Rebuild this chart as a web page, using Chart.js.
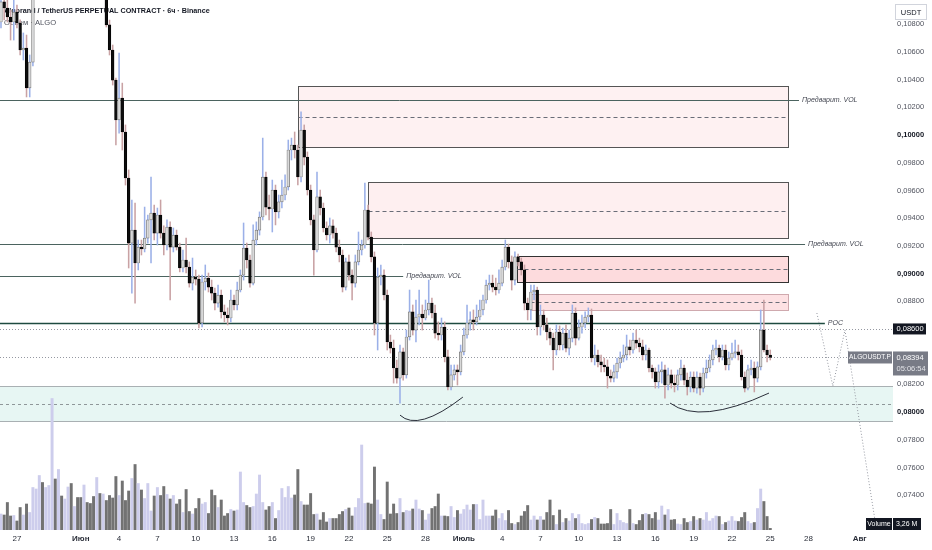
<!DOCTYPE html>
<html><head><meta charset="utf-8">
<script src="https://cdn.jsdelivr.net/npm/chart.js@4.4.1/dist/chart.umd.min.js"></script>
<style>html,body{margin:0;padding:0;background:#fff}#wrap{width:932px;height:550px;position:relative}</style>
</head><body><div id="wrap"><canvas id="c"></canvas></div>
<script>
// ---- DATA (6h candles, ALGOUSDT.P) ----
const opens = [0.10816,0.10961,0.10917,0.10852,0.10816,0.10888,0.10809,0.10614,0.10628,0.10340,0.10527,
0.11083,0.11180,0.11260,0.11190,0.11240,0.11310,0.11500,0.11380,0.11450,0.11360,0.11400,0.11470,0.11390,0.11430,0.11340,0.11270,0.11320,0.11250,0.11190,0.11140,0.11200,0.11150,
0.11210,0.10795,
0.10614,0.10397,0.10109,0.10267,0.10022,0.09690,0.09220,0.09314,0.09076,0.09191,
0.09177,0.09256,0.09387,0.09437,0.09292,0.09423,0.09292,0.09206,0.09336,0.09191,
0.09278,0.09191,0.09040,0.09098,0.09047,0.08931,0.08975,0.08960,0.08643,0.08939,
0.08967,0.08902,0.08859,0.08787,0.08845,0.08723,0.08701,0.08679,0.08809,0.08773,
0.08881,0.08989,0.09184,0.09098,0.08931,0.09242,0.09314,0.09408,0.09697,0.09480,
0.09466,0.09603,0.09445,0.09517,0.09567,0.09625,0.09892,0.09928,0.09892,0.09697,
0.10036,0.09841,0.09603,0.09387,0.09170,0.09553,0.09473,0.09329,0.09278,0.09344,
0.09292,0.09191,0.09134,0.08902,0.09084,0.08989,0.08931,0.09084,0.09170,0.09206,
0.09459,0.09263,0.09120,0.08643,0.08975,0.08989,0.08845,0.08506,0.08462,0.08318,
0.08245,0.08434,0.08268,0.08542,0.08723,0.08592,0.08686,
0.08708,
0.08679,0.08737,0.08787,0.08715,0.08570,0.08556,0.08614,0.08398,0.08181,0.08268,
0.08304,0.08290,0.08434,0.08556,0.08643,0.08665,0.08651,0.08686,0.08737,0.08809,0.08917,
0.08931,
0.08902,0.08881,0.08931,0.09047,0.09191,0.09084,0.08953,0.09120,0.09084,0.09026,
0.08787,0.08737,0.08867,0.08881,0.08614,0.08701,0.08629,0.08578,0.08534,0.08448,
0.08578,0.08484,0.08570,0.08462,0.08534,0.08715,0.08534,0.08614,0.08643,0.08686,
0.08701,0.08390,0.08412,0.08362,0.08340,0.08326,0.08260,0.08245,0.08290,0.08354,
0.08390,0.08412,0.08470,0.08448,0.08520,0.08498,0.08470,0.08412,0.08448,0.08318,
0.08290,0.08217,0.08290,0.08304,0.08195,0.08268,0.08209,0.08195,0.08268,0.08318,
0.08231,0.08181,0.08253,0.08173,0.08253,0.08173,0.08282,0.08318,0.08376,0.08448,
0.08462,0.08398,0.08448,0.08340,0.08390,0.08426,0.08434,0.08412,0.08253,0.08173,
0.08304,0.08318,0.08245,0.08326,0.08592,0.08448,0.08412];
const highs = [0.11033,0.11018,0.10975,0.10903,0.10975,0.10939,0.10831,0.10737,0.10722,0.10578,0.11192,
0.11230,0.11300,0.11290,0.11280,0.11350,0.11600,0.11540,0.11490,0.11470,0.11440,0.11520,0.11490,0.11460,0.11450,0.11360,0.11350,0.11340,0.11270,0.11220,0.11240,0.11230,0.11250,
0.11240,0.10830,
0.10650,0.10412,0.10592,0.10375,0.10073,0.09748,0.09531,0.09509,0.09242,0.09242,
0.09480,0.09423,0.09697,0.09495,0.09473,0.09531,0.09344,0.09387,0.09373,0.09329,
0.09314,0.09220,0.09170,0.09256,0.09084,0.09112,0.09026,0.08989,0.08989,0.09062,
0.09004,0.08953,0.08895,0.08917,0.08881,0.08773,0.08752,0.08881,0.08845,0.08939,
0.09026,0.09365,0.09220,0.09134,0.09351,0.09373,0.09445,0.09978,0.09733,0.09567,
0.09675,0.09639,0.09567,0.09675,0.09712,0.09964,0.09978,0.10022,0.09928,0.10167,
0.10073,0.09878,0.09639,0.09423,0.09733,0.09603,0.09509,0.09373,0.09401,0.09387,
0.09329,0.09242,0.09170,0.09112,0.09134,0.09026,0.09134,0.09300,0.09242,0.09653,
0.09495,0.09300,0.09156,0.09040,0.09062,0.09026,0.08881,0.08556,0.08520,0.08376,
0.08484,0.08462,0.08592,0.08881,0.08773,0.08809,0.08881,
0.08773,
0.08809,0.08953,0.08823,0.08773,0.08651,0.08679,0.08651,0.08448,0.08340,0.08340,
0.08340,0.08484,0.08607,0.08773,0.08723,0.08737,0.08773,0.08809,0.08845,0.08953,0.08989,
0.08989,
0.08967,0.09026,0.09098,0.09242,0.09213,0.09127,0.09156,0.09141,0.09112,0.09062,
0.08823,0.08917,0.08917,0.08902,0.08773,0.08737,0.08679,0.08607,0.08570,0.08629,
0.08622,0.08607,0.08629,0.08592,0.08773,0.08752,0.08665,0.08701,0.08723,0.08752,
0.08744,0.08484,0.08448,0.08412,0.08390,0.08376,0.08304,0.08340,0.08390,0.08434,
0.08484,0.08556,0.08520,0.08570,0.08592,0.08534,0.08520,0.08484,0.08462,0.08340,
0.08318,0.08340,0.08362,0.08340,0.08318,0.08304,0.08268,0.08304,0.08376,0.08340,
0.08282,0.08290,0.08290,0.08290,0.08282,0.08318,0.08376,0.08412,0.08484,0.08520,
0.08484,0.08484,0.08484,0.08434,0.08498,0.08520,0.08484,0.08448,0.08290,0.08340,
0.08376,0.08362,0.08362,0.08737,0.08809,0.08484,0.08448];
const lows = [0.10773,0.10831,0.10816,0.10686,0.10686,0.10773,0.10578,0.10542,0.10275,0.10275,0.10499,
0.11040,0.11150,0.11140,0.11160,0.11210,0.11280,0.11320,0.11350,0.11330,0.11320,0.11380,0.11360,0.11350,0.11310,0.11230,0.11240,0.11210,0.11150,0.11100,0.11110,0.11110,0.11120,
0.10780,0.10578,
0.10361,0.09928,0.10014,0.09892,0.09639,0.09040,0.08859,0.08787,0.09026,0.09134,
0.09156,0.09220,0.09076,0.09242,0.09206,0.09256,0.09134,0.09170,0.08809,0.09156,
0.09170,0.09012,0.09012,0.09004,0.08902,0.08881,0.08917,0.08607,0.08614,0.08881,
0.08867,0.08809,0.08737,0.08758,0.08679,0.08651,0.08629,0.08651,0.08737,0.08737,
0.08867,0.08953,0.09040,0.08902,0.08917,0.09206,0.09278,0.09387,0.09423,0.09387,
0.09300,0.09351,0.09401,0.09473,0.09531,0.09603,0.09820,0.09834,0.09639,0.09661,
0.09784,0.09567,0.09351,0.08989,0.09156,0.09423,0.09300,0.09242,0.09220,0.09256,
0.09156,0.09084,0.08867,0.08881,0.08953,0.08809,0.08902,0.09062,0.09134,0.09184,
0.09242,0.09084,0.08556,0.08448,0.08917,0.08809,0.08448,0.08426,0.08209,0.08209,
0.08065,0.08231,0.08245,0.08520,0.08556,0.08506,0.08629,
0.08592,
0.08665,0.08701,0.08679,0.08534,0.08520,0.08520,0.08362,0.08159,0.08159,0.08231,
0.08195,0.08268,0.08412,0.08534,0.08592,0.08592,0.08629,0.08665,0.08701,0.08787,0.08881,
0.08867,
0.08845,0.08859,0.08910,0.09026,0.09040,0.08881,0.08917,0.09055,0.08989,0.08737,
0.08665,0.08665,0.08809,0.08556,0.08556,0.08592,0.08520,0.08484,0.08304,0.08412,
0.08448,0.08448,0.08434,0.08412,0.08506,0.08484,0.08520,0.08570,0.08607,0.08651,
0.08362,0.08340,0.08326,0.08290,0.08290,0.08173,0.08217,0.08217,0.08245,0.08318,
0.08362,0.08376,0.08412,0.08426,0.08462,0.08434,0.08376,0.08376,0.08290,0.08245,
0.08173,0.08173,0.08209,0.08101,0.08159,0.08173,0.08145,0.08159,0.08231,0.08195,
0.08123,0.08145,0.08145,0.08137,0.08123,0.08145,0.08245,0.08290,0.08340,0.08412,
0.08362,0.08376,0.08304,0.08304,0.08376,0.08390,0.08376,0.08231,0.08145,0.08159,
0.08268,0.08145,0.08217,0.08304,0.08434,0.08362,0.08376];
const closes = [0.10961,0.10917,0.10852,0.10816,0.10888,0.10809,0.10614,0.10628,0.10340,0.10527,0.11083,
0.11180,0.11260,0.11190,0.11240,0.11310,0.11500,0.11380,0.11450,0.11360,0.11400,0.11470,0.11390,0.11430,0.11340,0.11270,0.11320,0.11250,0.11190,0.11140,0.11200,0.11150,0.11210,
0.10795,0.10614,
0.10397,0.10109,0.10267,0.10022,0.09690,0.09220,0.09314,0.09076,0.09191,0.09177,
0.09256,0.09387,0.09437,0.09292,0.09423,0.09292,0.09206,0.09336,0.09191,0.09278,
0.09191,0.09040,0.09098,0.09047,0.08931,0.08975,0.08960,0.08643,0.08939,0.08967,
0.08902,0.08859,0.08787,0.08845,0.08723,0.08701,0.08679,0.08809,0.08773,0.08881,
0.08989,0.09184,0.09098,0.08931,0.09242,0.09314,0.09408,0.09697,0.09480,0.09466,
0.09603,0.09445,0.09517,0.09567,0.09625,0.09892,0.09928,0.09892,0.09697,0.10036,
0.09841,0.09603,0.09387,0.09170,0.09553,0.09473,0.09329,0.09278,0.09344,0.09292,
0.09191,0.09134,0.08902,0.09084,0.08989,0.08931,0.09084,0.09170,0.09206,0.09459,
0.09263,0.09120,0.08643,0.08975,0.08989,0.08845,0.08506,0.08462,0.08318,0.08245,
0.08434,0.08268,0.08542,0.08723,0.08592,0.08686,0.08708,
0.08679,
0.08737,0.08787,0.08715,0.08570,0.08556,0.08614,0.08398,0.08181,0.08268,0.08304,
0.08290,0.08434,0.08556,0.08643,0.08665,0.08651,0.08686,0.08737,0.08809,0.08917,0.08931,
0.08902,
0.08881,0.08931,0.09047,0.09191,0.09084,0.08953,0.09120,0.09084,0.09026,0.08787,
0.08737,0.08867,0.08881,0.08614,0.08701,0.08629,0.08578,0.08534,0.08448,0.08578,
0.08484,0.08570,0.08462,0.08534,0.08715,0.08534,0.08614,0.08643,0.08686,0.08701,
0.08390,0.08412,0.08362,0.08340,0.08326,0.08260,0.08245,0.08290,0.08354,0.08390,
0.08412,0.08470,0.08448,0.08520,0.08498,0.08470,0.08412,0.08448,0.08318,0.08290,
0.08217,0.08290,0.08304,0.08195,0.08268,0.08209,0.08195,0.08268,0.08318,0.08231,
0.08181,0.08253,0.08173,0.08253,0.08173,0.08282,0.08318,0.08376,0.08448,0.08462,
0.08398,0.08448,0.08340,0.08390,0.08426,0.08434,0.08412,0.08253,0.08173,0.08304,
0.08318,0.08245,0.08326,0.08592,0.08448,0.08412,0.08394];
// volume, millions of ALGO
const volumes = [32,30,55,28,29,18,45,30,52,35,
85,82,109,95,85,89,263,102,121,68,
62,86,93,47,65,65,90,55,53,67,
105,73,72,59,69,64,107,69,98,59,
78,103,131,93,80,63,93,38,68,85,
69,87,71,62,69,52,61,35,81,37,
32,43,63,52,55,33,80,69,45,60,
28,33,41,38,40,116,55,49,45,47,
72,110,55,40,47,55,23,39,83,65,
87,64,70,121,57,50,50,73,31,32,
20,35,16,23,23,23,31,37,41,44,
28,45,63,170,53,54,52,126,60,31,
21,96,32,52,33,63,35,39,38,
42,60,42,39,20,32,43,47,72,28,
28,27,47,25,39,32,41,50,40,51,
51,21,60,28,28,28,40,23,33,19,
39,13,11,15,28,37,49,20,28,20,
27,20,35,60,29,11,40,15,23,18,
33,23,31,13,11,13,21,25,23,12,
12,13,41,11,33,19,15,13,41,13,
11,19,31,33,31,23,35,20,48,30,
41,20,21,12,11,23,15,17,27,20,
23,20,35,18,23,28,27,11,15,18,
27,18,17,25,35,17,13,15,43,82,
57,27,3.26];

const priceTicks = [0.074,0.076,0.078,0.080,0.082,0.084,0.086,0.088,0.090,0.092,0.094,0.096,0.098,0.100,0.102,0.104,0.106,0.108];
const boldPrices = [0.080,0.090,0.100];
const timeTickIdx = [5,25,37,49,61,73,85,97,109,121,133,145,157,169,181,193,205,217,229,241,253,269];
const timeTickLabels = ['27','Июн','4','7','10','13','16','19','22','25','28','Июль','4','7','10','13','16','19','22','25','28','Авг'];
const monthLabels = ['Июн','Июль','Авг'];

// drawings (bar number, price)
const boxStart  = [93.0, 115.0, 161.7, 165.7];
const boxEnd    = [246.6, 246.6, 246.6, 246.6];
const boxTop    = [0.10354, 0.09661, 0.09127, 0.08852];
const boxBottom = [0.09914, 0.09257, 0.08939, 0.08737];
const boxMid    = [0.10130, 0.09452, 0.09033, 0.08795];
const levelPrices = [0.10253, 0.09213, 0.08982];
const levelEnds   = [250.0, 251.9, 126.0];
const levelText = 'Предварит. VOL';
const pocPrice = 0.08645, pocEnd = 258.1;
const markPrice = 0.086;
const zoneTop = 0.08188, zoneBottom = 0.07935, zoneMid = 0.08058;
const arc1 = [[125.0,0.07978],[130.6,0.07856],[144.7,0.08108]];
const arc2 = [[209.6,0.08065],[219.0,0.07906],[240.6,0.08137]];
const projection = [[255.6,0.08715],[260.6,0.08188],[264.4,0.08592],[273.8,0.07220]];
const titleText = 'Algorand / TetherUS PERPETUAL CONTRACT · 6ч · Binance';
const subText = 'Объем · ALGO';
const symbolText = 'ALGOUSDT.P';
const countdown = '05:06:54';

// ---- CHART ----
const F = '"Liberation Sans", Arial, sans-serif';
const bars = closes.map((c, k) => k);
const isUp = k => closes[k] >= opens[k];
const fmt = v => v.toFixed(5).replace('.', ',');

const drawings = {
  id: 'drawings',
  beforeDatasetsDraw(chart) {
    const {ctx, chartArea: a, scales: {x, y}} = chart;
    const X = v => x.getPixelForValue(v), Y = v => Math.round(y.getPixelForValue(v)) + 0.5;
    ctx.save();
    ctx.beginPath(); ctx.rect(a.left, a.top, a.right - a.left, a.bottom - a.top); ctx.clip();
    const line = (x1, x2, yy, col, w, dash) => {
      ctx.beginPath(); ctx.setLineDash(dash || []); ctx.strokeStyle = col; ctx.lineWidth = w || 1;
      ctx.moveTo(x1, yy); ctx.lineTo(x2, yy); ctx.stroke(); ctx.setLineDash([]);
    };
    // header
    ctx.textBaseline = 'middle'; ctx.textAlign = 'left';
    ctx.fillStyle = '#131722'; ctx.font = 'bold 7.2px ' + F; ctx.fillText(titleText, 4, 11);
    ctx.fillStyle = '#50535e'; ctx.font = '7.6px ' + F; ctx.fillText(subText, 4, 23);
    // support zone
    const zt = Y(zoneTop), zb = Y(zoneBottom);
    ctx.fillStyle = 'rgba(34,171,148,0.11)'; ctx.fillRect(a.left, zt, a.right - a.left, zb - zt);
    line(a.left, a.right, zt, '#a9b0b3', 1);
    line(a.left, a.right, zb, '#a9b0b3', 1);
    line(a.left, a.right, Y(zoneMid), '#8f9799', 1, [3, 3]);
    // boxes
    const fills = ['rgba(242,54,69,0.07)', 'rgba(242,54,69,0.08)', 'rgba(242,54,69,0.18)', 'rgba(242,54,69,0.15)'];
    const strokes = ['#555', '#555', '#333', '#cfa9ae'];
    for (let j = 0; j < boxStart.length; j++) {
      const x1 = Math.round(X(boxStart[j])) + 0.5, x2 = Math.round(X(boxEnd[j])) + 0.5;
      const t = Y(boxTop[j]), b = Y(boxBottom[j]);
      ctx.fillStyle = fills[j]; ctx.fillRect(x1, t, x2 - x1, b - t);
      ctx.strokeStyle = strokes[j]; ctx.lineWidth = 1; ctx.strokeRect(x1, t, x2 - x1, b - t);
      line(x1, x2, Y(boxMid[j]), '#6a6d78', 1, [4, 3]);
    }
    // levels
    for (let j = 0; j < levelPrices.length; j++) line(a.left, X(levelEnds[j]), Y(levelPrices[j]), '#4b635f', 1);
    line(a.left, X(pocEnd), Y(pocPrice), '#1e4b40', 1.6);
    // dotted price lines
    line(a.left, a.right, Y(markPrice), '#9598a1', 1, [1, 2]);
    line(a.left, a.right, Y(closes[closes.length - 1]), '#9598a1', 1, [1, 2]);
    ctx.restore();
  },
  afterDatasetsDraw(chart) {
    const {ctx, chartArea: a, scales: {x, y}} = chart;
    const X = v => x.getPixelForValue(v), Y = v => y.getPixelForValue(v);
    ctx.save();
    ctx.beginPath(); ctx.rect(a.left, a.top, a.right - a.left, a.bottom - a.top); ctx.clip();
    // arcs
    ctx.strokeStyle = '#2a2e39'; ctx.lineWidth = 1;
    for (const arc of [arc1, arc2]) {
      ctx.beginPath(); ctx.moveTo(X(arc[0][0]), Y(arc[0][1]));
      ctx.quadraticCurveTo(X(arc[1][0]), Y(arc[1][1]), X(arc[2][0]), Y(arc[2][1]));
      ctx.stroke();
    }
    // projection
    ctx.beginPath(); ctx.setLineDash([1, 2]); ctx.strokeStyle = '#9598a1';
    projection.forEach((p, j) => j ? ctx.lineTo(X(p[0]), Y(p[1])) : ctx.moveTo(X(p[0]), Y(p[1])));
    ctx.stroke(); ctx.setLineDash([]);
    // labels
    ctx.font = 'italic 7px ' + F; ctx.fillStyle = '#434651'; ctx.textBaseline = 'middle'; ctx.textAlign = 'left';
    for (let j = 0; j < levelPrices.length; j++) ctx.fillText(levelText, X(levelEnds[j]) + 3, Y(levelPrices[j]));
    ctx.fillText('POC', X(pocEnd) + 3, Y(pocPrice));
    ctx.restore();
  },
  afterDraw(chart) {
    const {ctx, chartArea: a, scales: {y, yv}} = chart;
    const R = a.right;
    ctx.save();
    ctx.textBaseline = 'middle'; ctx.font = '7.5px ' + F;
    // USDT
    ctx.fillStyle = '#fff'; ctx.fillRect(R + 2.5, 4.5, 31, 15);
    ctx.strokeStyle = '#d1d4dc'; ctx.lineWidth = 1; ctx.strokeRect(R + 2.5, 4.5, 31, 15);
    ctx.fillStyle = '#131722'; ctx.textAlign = 'center'; ctx.fillText('USDT', R + 18, 12.5);
    // 0,08600 mark
    const ym = y.getPixelForValue(markPrice);
    ctx.fillStyle = '#131722'; ctx.fillRect(R, ym - 5.5, 33, 11);
    ctx.fillStyle = '#fff'; ctx.textAlign = 'left'; ctx.fillText(fmt(markPrice), R + 3.5, ym);
    // last price
    const last = closes.length - 1, yl = y.getPixelForValue(closes[last]);
    ctx.fillStyle = '#787b86'; ctx.fillRect(R, yl - 6, 35, 24);
    ctx.fillStyle = '#fff'; ctx.fillText(fmt(closes[last]), R + 3.5, yl);
    ctx.fillStyle = '#e3e4e8'; ctx.fillText(countdown, R + 3.5, yl + 11);
    ctx.fillStyle = '#787b86'; ctx.fillRect(R - 45, yl - 6, 44, 12);
    ctx.fillStyle = '#fff'; ctx.textAlign = 'center'; ctx.font = '6.6px ' + F; ctx.fillText(symbolText, R - 23, yl);
    // volume
    ctx.font = '7px ' + F;
    const yvp = Math.min(yv.getPixelForValue(volumes[last]), a.bottom - 6);
    ctx.fillStyle = '#131722'; ctx.fillRect(R - 27, yvp - 6, 26, 12); ctx.fillRect(R, yvp - 6, 28, 12);
    ctx.fillStyle = '#fff'; ctx.fillText('Volume', R - 14, yvp);
    ctx.textAlign = 'left'; ctx.fillText(volumes[last].toFixed(2).replace('.', ',') + ' M', R + 3, yvp);
    ctx.restore();
  }
};

new Chart(document.getElementById('c'), {
  type: 'bar',
  data: {
    datasets: [
      {label: 'body', data: bars.map(k => ({x: k, y: [opens[k], closes[k]]})), yAxisID: 'y', grouped: false,
       barThickness: 2.7, minBarLength: 1, borderWidth: 0.7, borderSkipped: false, order: 0,
       backgroundColor: c => isUp(c.dataIndex) ? '#d9d9d9' : '#0d0d0d',
       borderColor: c => isUp(c.dataIndex) ? '#6f6f6f' : '#000'},
      {label: 'wick', data: bars.map(k => ({x: k, y: [lows[k], highs[k]]})), yAxisID: 'y', grouped: false,
       barThickness: 0.9, order: 1,
       backgroundColor: c => isUp(c.dataIndex) ? '#9bb0e8' : '#c9a2a4'},
      {label: 'volume', data: bars.map(k => ({x: k, y: volumes[k]})), yAxisID: 'yv', grouped: false,
       barThickness: 2.3, order: 2,
       backgroundColor: c => isUp(c.dataIndex) ? '#cdcdec' : '#727272'}
    ]
  },
  options: {
    responsive: true, maintainAspectRatio: false, animation: false,
    layout: {padding: 0},
    plugins: {legend: {display: false}, tooltip: {enabled: false}},
    scales: {
      x: {type: 'linear', min: -0.31, max: 279.45, offset: false,
          grid: {display: false, drawTicks: false}, border: {display: false},
          afterBuildTicks: s => { s.ticks = timeTickIdx.map(v => ({value: v})); },
          afterFit: s => { s.height = 20; s.paddingLeft = 0; s.paddingRight = 0; },
          ticks: {autoSkip: false, maxRotation: 0, padding: 4, color: '#2a2e39',
                  callback: v => { const j = timeTickIdx.indexOf(v); return j >= 0 ? timeTickLabels[j] : ''; },
                  font: c => ({family: F, size: 8, weight: monthLabels.includes(timeTickLabels[timeTickIdx.indexOf(c.tick && c.tick.value)]) ? 'bold' : 'normal'})}},
      y: {position: 'right', min: 0.071484, max: 0.10975,
          grid: {display: false, drawTicks: false}, border: {display: false},
          afterBuildTicks: s => { s.ticks = priceTicks.map(v => ({value: v})); },
          afterFit: s => { s.width = 39; s.paddingTop = 0; s.paddingBottom = 0; },
          ticks: {padding: 4, callback: v => fmt(v),
                  color: c => boldPrices.some(b => Math.abs(b - (c.tick ? c.tick.value : 0)) < 1e-6) ? '#131722' : '#50535e',
                  font: c => ({family: F, size: 7.5, weight: boldPrices.some(b => Math.abs(b - (c.tick ? c.tick.value : 0)) < 1e-6) ? 'bold' : 'normal'})}},
      yv: {display: false, min: 0, max: 1060}
    }
  },
  plugins: [drawings]
});
</script>
</body></html>
